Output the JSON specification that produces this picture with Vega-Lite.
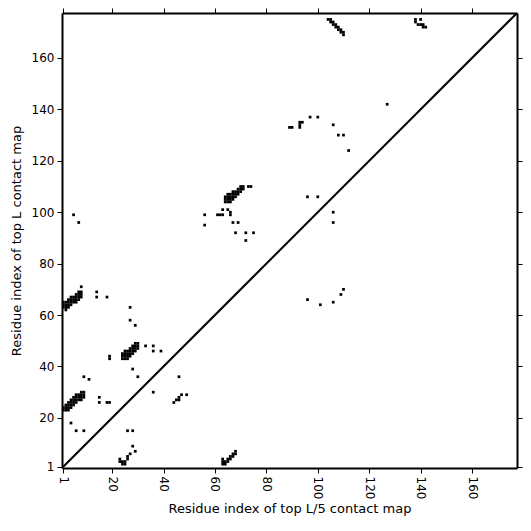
{
  "$schema": "https://vega.github.io/schema/vega-lite/v6.json",
  "width": 455,
  "height": 455,
  "autosize": {"type": "none"},
  "padding": {"left": 62, "top": 13, "right": 14, "bottom": 63},
  "background": "white",
  "config": {
    "view": {"stroke": null},
    "font": "DejaVu Sans",
    "axis": {
      "domainColor": "black", "domainWidth": 2, "tickColor": "black", "tickWidth": 1, "tickSize": 5,
      "labelColor": "black", "labelFontSize": 12, "labelFont": "DejaVu Sans",
      "titleColor": "black", "titleFontSize": 13, "titleFont": "DejaVu Sans", "titleFontWeight": "normal",
      "grid": false
    }
  },
  "datasets": {
    "cells": [
      {"x":1,"y":63},{"x":1,"y":64},{"x":1,"y":65},{"x":2,"y":62},{"x":2,"y":63},{"x":2,"y":64},{"x":2,"y":65},{"x":3,"y":63},{"x":3,"y":64},{"x":3,"y":65},{"x":3,"y":66},{"x":4,"y":64},{"x":4,"y":65},{"x":4,"y":66},{"x":4,"y":67},{"x":5,"y":65},{"x":5,"y":66},{"x":5,"y":67},{"x":6,"y":65},{"x":6,"y":66},{"x":6,"y":67},{"x":6,"y":68},{"x":7,"y":66},{"x":7,"y":67},{"x":7,"y":68},{"x":7,"y":69},{"x":8,"y":67},{"x":8,"y":68},{"x":8,"y":69},{"x":8,"y":71},
      {"x":1,"y":23},{"x":1,"y":24},{"x":2,"y":23},{"x":2,"y":24},{"x":2,"y":25},{"x":3,"y":23},{"x":3,"y":24},{"x":3,"y":25},{"x":3,"y":26},{"x":4,"y":24},{"x":4,"y":25},{"x":4,"y":26},{"x":4,"y":27},{"x":5,"y":25},{"x":5,"y":26},{"x":5,"y":27},{"x":5,"y":28},{"x":6,"y":26},{"x":6,"y":27},{"x":6,"y":28},{"x":6,"y":29},{"x":7,"y":27},{"x":7,"y":28},{"x":7,"y":29},{"x":8,"y":27},{"x":8,"y":28},{"x":8,"y":29},{"x":8,"y":30},{"x":9,"y":28},{"x":9,"y":29},{"x":9,"y":30},
      {"x":24,"y":43},{"x":24,"y":44},{"x":24,"y":45},{"x":25,"y":43},{"x":25,"y":44},{"x":25,"y":45},{"x":25,"y":46},{"x":26,"y":43},{"x":26,"y":44},{"x":26,"y":45},{"x":26,"y":46},{"x":27,"y":44},{"x":27,"y":45},{"x":27,"y":46},{"x":27,"y":47},{"x":28,"y":45},{"x":28,"y":46},{"x":28,"y":47},{"x":28,"y":48},{"x":29,"y":46},{"x":29,"y":47},{"x":29,"y":48},{"x":29,"y":49},{"x":30,"y":47},{"x":30,"y":48},{"x":30,"y":49},
      {"x":64,"y":104},{"x":64,"y":105},{"x":64,"y":106},{"x":65,"y":104},{"x":65,"y":105},{"x":65,"y":106},{"x":65,"y":107},{"x":66,"y":104},{"x":66,"y":105},{"x":66,"y":106},{"x":66,"y":107},{"x":67,"y":105},{"x":67,"y":106},{"x":67,"y":107},{"x":67,"y":108},{"x":68,"y":106},{"x":68,"y":107},{"x":68,"y":108},{"x":69,"y":107},{"x":69,"y":108},{"x":69,"y":109},{"x":70,"y":108},{"x":70,"y":109},{"x":70,"y":110},{"x":71,"y":109},{"x":71,"y":110},{"x":73,"y":110},{"x":74,"y":110},
      {"x":104,"y":175},{"x":105,"y":175},{"x":105,"y":174},{"x":106,"y":174},{"x":106,"y":173},{"x":107,"y":173},{"x":107,"y":172},{"x":108,"y":172},{"x":108,"y":171},{"x":109,"y":171},{"x":109,"y":170},{"x":110,"y":170},{"x":110,"y":169},
      {"x":138,"y":175},{"x":138,"y":174},{"x":140,"y":175},{"x":139,"y":173},{"x":140,"y":173},{"x":141,"y":173},{"x":141,"y":172},{"x":142,"y":172},
      {"x":23,"y":3},{"x":23,"y":4},{"x":24,"y":2},{"x":24,"y":3},{"x":25,"y":2},{"x":25,"y":3},{"x":26,"y":4},{"x":26,"y":5},{"x":27,"y":6},{"x":28,"y":9},{"x":29,"y":7},
      {"x":63,"y":2},{"x":63,"y":3},{"x":63,"y":4},{"x":64,"y":2},{"x":64,"y":3},{"x":65,"y":3},{"x":65,"y":4},{"x":66,"y":4},{"x":66,"y":5},{"x":67,"y":5},{"x":67,"y":6},{"x":68,"y":6},{"x":68,"y":7},
      {"x":5,"y":99},{"x":7,"y":96},{"x":14,"y":69},{"x":14,"y":67},{"x":18,"y":67},{"x":27,"y":63},{"x":27,"y":58},{"x":29,"y":56},
      {"x":33,"y":48},{"x":36,"y":48},{"x":36,"y":46},{"x":39,"y":46},{"x":19,"y":43},{"x":19,"y":44},{"x":28,"y":39},{"x":30,"y":36},{"x":36,"y":30},{"x":46,"y":36},
      {"x":9,"y":36},{"x":11,"y":35},{"x":15,"y":28},{"x":15,"y":26},{"x":18,"y":26},{"x":19,"y":26},{"x":4,"y":18},{"x":6,"y":15},{"x":9,"y":15},{"x":26,"y":15},{"x":28,"y":15},
      {"x":44,"y":26},{"x":45,"y":27},{"x":46,"y":27},{"x":46,"y":28},{"x":47,"y":29},{"x":49,"y":29},
      {"x":56,"y":99},{"x":56,"y":95},{"x":61,"y":99},{"x":62,"y":99},{"x":63,"y":99},{"x":63,"y":101},{"x":65,"y":101},{"x":66,"y":100},{"x":66,"y":99},{"x":67,"y":96},{"x":69,"y":96},{"x":68,"y":92},{"x":72,"y":92},{"x":75,"y":92},{"x":72,"y":89},
      {"x":96,"y":106},{"x":100,"y":106},{"x":106,"y":100},{"x":106,"y":96},
      {"x":97,"y":137},{"x":100,"y":137},{"x":89,"y":133},{"x":90,"y":133},{"x":93,"y":133},{"x":93,"y":134},{"x":93,"y":135},{"x":94,"y":135},{"x":106,"y":134},{"x":108,"y":130},{"x":110,"y":130},{"x":112,"y":124},{"x":127,"y":142},
      {"x":96,"y":66},{"x":101,"y":64},{"x":106,"y":65},{"x":109,"y":68},{"x":110,"y":70}
    ],
    "diag": [{"x": 0.5, "y": 0.5}, {"x": 177.5, "y": 177.5}]
  },
  "layer": [
    {
      "data": {"name": "cells"},
      "mark": {"type": "square", "filled": true, "color": "black", "size": 7.5, "opacity": 1, "strokeWidth": 0},
      "encoding": {
        "x": {"field": "x", "type": "quantitative", "scale": {"domain": [0.5, 177.5], "nice": false, "zero": false},
          "axis": {"orient": "bottom", "values": [1,20,40,60,80,100,120,140,160], "labelAngle": 90, "labelAlign": "left", "labelBaseline": "middle", "labelPadding": 3, "title": "Residue index of top L/5 contact map", "titlePadding": 4}},
        "y": {"field": "y", "type": "quantitative", "scale": {"domain": [0.5, 177.5], "nice": false, "zero": false},
          "axis": {"orient": "left", "values": [1,20,40,60,80,100,120,140,160], "labelPadding": 3, "title": "Residue index of top L contact map", "titlePadding": 8}}
      }
    },
    {
      "data": {"name": "diag"},
      "mark": {"type": "line", "color": "black", "strokeWidth": 2, "clip": true},
      "encoding": {
        "x": {"field": "x", "type": "quantitative", "scale": {"domain": [0.5, 177.5], "nice": false, "zero": false},
          "axis": {"orient": "top", "values": [1,20,40,60,80,100,120,140,160], "labels": false, "title": null}},
        "y": {"field": "y", "type": "quantitative", "scale": {"domain": [0.5, 177.5], "nice": false, "zero": false},
          "axis": {"orient": "right", "values": [1,20,40,60,80,100,120,140,160], "labels": false, "title": null}}
      }
    }
  ],
  "resolve": {"scale": {"x": "independent", "y": "independent"}, "axis": {"x": "independent", "y": "independent"}}
}
